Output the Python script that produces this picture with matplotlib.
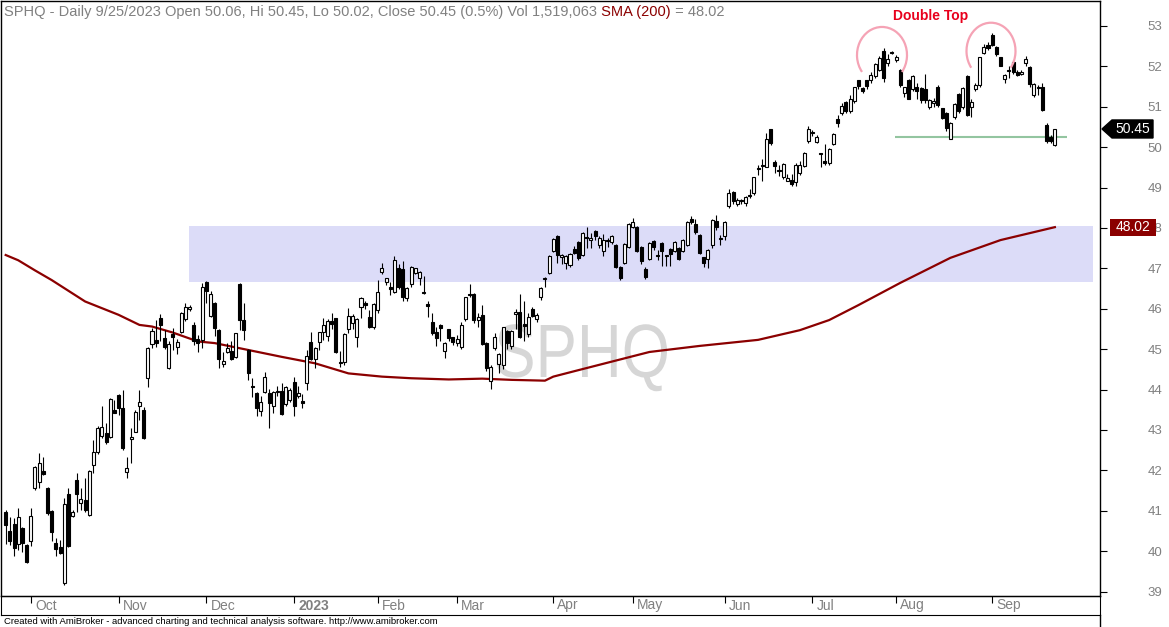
#!/usr/bin/env python3
"""SPHQ diario (sep 2022 - sep 2023) con SMA(200), zona de resistencia
y doble techo, al estilo de una captura de AmiBroker."""
import matplotlib
matplotlib.use("Agg")
import matplotlib.pyplot as plt
import matplotlib.transforms as mtransforms
from matplotlib.patches import Rectangle, Arc, Polygon, PathPatch
from matplotlib.textpath import TextPath
from matplotlib.font_manager import FontProperties
from matplotlib.lines import Line2D
import numpy as np
import pandas as pd

W, H = 1169, 627

# --- datos ---
HOLIDAYS = ["2022-11-24", "2022-12-26", "2023-01-02", "2023-01-16", "2023-02-20",
            "2023-04-07", "2023-05-29", "2023-06-19", "2023-07-04", "2023-09-04"]

OPEN = [
    40.96, 40.51, 40.67, 40.18, 40.57, 40.15, 40.25, 41.56, 41.70, 41.99,
    41.56, 41.00, 40.21, 40.11, 39.20, 41.42, 40.87, 41.76, 41.18, 41.27,
    40.90, 42.13, 42.45, 42.84, 42.92, 42.82, 43.49, 43.87, 43.55, 41.97,
    42.77, 42.96, 43.60, 43.49, 44.28, 45.12, 45.23, 45.78, 45.27, 44.53,
    45.37, 45.06, 45.43, 45.74, 45.99, 45.60, 45.24, 45.23, 46.67, 45.83,
    46.14, 45.48, 44.64, 44.94, 44.96, 44.80, 46.61, 45.72, 44.98, 44.09,
    43.91, 43.48, 43.95, 43.91, 43.60, 43.93, 43.97, 43.64, 43.74, 44.18,
    43.84, 43.72, 44.16, 45.17, 44.75, 45.17, 45.43, 45.33, 45.70, 45.76,
    44.69, 44.68, 45.49, 45.64, 45.29, 46.04, 46.15, 45.79, 45.56, 45.97,
    46.92, 46.67, 46.53, 46.41, 47.00, 46.98, 46.26, 46.61, 46.88, 46.75,
    46.41, 46.12, 45.68, 45.43, 45.60, 44.96, 45.49, 45.29, 45.16, 45.06,
    45.74, 46.36, 46.37, 45.72,
    45.85, 45.15, 44.22, 45.02, 44.63, 44.61, 45.46,
    45.08, 45.87, 45.91, 45.62, 45.37, 45.99, 45.74, 46.28, 46.73, 46.88,
    47.42, 47.80, 47.28, 47.14, 47.09, 47.48, 47.66, 47.33, 47.77, 47.69,
    47.93, 47.58, 47.44, 47.70, 47.66, 47.58, 47.03, 47.14, 47.54, 48.02,
    48.02, 47.54, 46.98, 47.23, 47.68, 47.32, 47.62, 47.32, 47.47, 47.44,
    47.50, 47.44, 47.58, 48.22, 48.10, 47.83, 47.27, 47.23, 47.58, 48.18,
    47.73, 47.79, 48.55, 48.90, 48.59, 48.68, 48.61, 48.80, 48.86, 49.48,
    49.55, 49.52, 50.44, 49.63, 49.43, 49.25, 49.17, 49.19, 49.13, 49.35,
    49.54, 50.16, 50.36, 50.12, 49.84, 49.63, 49.60, 50.08, 50.70, 50.84,
    51.11, 50.90, 51.15, 51.65, 51.46, 51.65, 51.65, 51.76, 51.91, 52.39,
    52.08, 52.36, 52.16, 51.91, 51.33, 51.66, 51.43, 51.50, 51.46, 51.43,
    50.99, 51.10, 51.48, 50.96, 50.85, 50.19, 50.74, 51.32, 50.99, 51.76,
    50.99, 51.43, 51.54, 52.32, 52.53, 52.78, 52.47, 52.22, 51.68, 51.89,
    52.12, 51.87, 51.81, 52.09, 51.98, 51.29, 51.48, 51.48, 50.55, 50.26,
    50.06,
]
HIGH = [
    41.02, 40.85, 40.81, 41.06, 40.60, 40.18, 41.06, 42.12, 42.42, 42.34,
    41.58, 41.02, 40.32, 40.28, 41.31, 41.56, 41.02, 41.93, 41.56, 41.80,
    42.01, 42.75, 43.10, 43.59, 43.16, 43.80, 43.74, 43.90, 43.99, 42.34,
    43.04, 43.49, 43.99, 43.58, 45.06, 45.52, 45.72, 45.87, 45.47, 45.20,
    45.52, 45.24, 45.92, 46.14, 46.10, 45.66, 45.35, 46.63, 46.69, 46.45,
    46.16, 45.50, 44.94, 45.14, 45.21, 45.41, 46.63, 46.15, 45.00, 44.28,
    43.93, 43.84, 44.43, 44.01, 43.97, 44.10, 44.15, 44.10, 44.05, 44.32,
    44.10, 43.88, 44.98, 45.43, 45.06, 45.43, 45.76, 45.74, 45.90, 45.78,
    44.96, 45.41, 46.01, 45.87, 45.76, 46.28, 46.20, 45.97, 46.14, 46.71,
    47.14, 46.77, 46.67, 47.31, 47.11, 47.17, 46.54, 47.06, 47.02, 46.94,
    46.80, 46.19, 45.90, 45.56, 45.62, 45.18, 45.51, 45.31, 45.35, 45.68,
    46.30, 46.61, 46.39, 45.90,
    46.09, 45.17, 44.60, 45.41, 44.90, 45.56, 45.48,
    45.48, 46.00, 46.36, 46.19, 45.90, 46.05, 45.90, 46.53, 46.79, 47.33,
    47.74, 47.82, 47.35, 47.33, 47.38, 47.55, 47.68, 47.89, 48.03, 47.87,
    47.95, 47.80, 47.85, 47.75, 47.82, 47.60, 47.05, 47.62, 48.12, 48.24,
    48.04, 47.56, 47.03, 47.64, 47.70, 47.46, 47.64, 47.34, 47.50, 47.67,
    47.52, 47.72, 48.16, 48.30, 48.22, 47.85, 47.29, 47.48, 48.22, 48.32,
    47.83, 48.16, 48.96, 48.92, 48.75, 48.72, 48.80, 48.96, 49.27, 49.56,
    49.70, 50.34, 50.46, 49.68, 49.56, 49.60, 49.34, 49.34, 49.60, 49.66,
    49.87, 50.53, 50.43, 50.29, 49.86, 50.08, 49.97, 50.35, 50.80, 51.10,
    51.14, 51.29, 51.50, 51.67, 51.48, 51.67, 51.85, 52.08, 52.25, 52.45,
    52.30, 52.38, 52.28, 51.93, 51.50, 51.68, 51.78, 51.60, 51.48, 51.81,
    51.20, 51.22, 51.55, 50.98, 50.87, 50.62, 51.09, 51.34, 51.50, 51.78,
    51.20, 51.60, 52.24, 52.55, 52.60, 52.82, 52.50, 52.24, 51.80, 52.00,
    52.15, 51.90, 51.90, 52.25, 52.00, 51.60, 51.55, 51.60, 50.60, 50.30,
    50.45,
]
LOW = [
    40.18, 40.15, 39.87, 40.03, 39.99, 39.70, 40.13, 41.52, 41.56, 41.89,
    40.90, 40.24, 39.87, 39.94, 39.16, 40.10, 40.84, 40.98, 41.02, 40.98,
    40.87, 41.94, 42.40, 42.80, 42.65, 42.80, 43.41, 43.37, 42.50, 41.80,
    42.18, 42.95, 43.25, 42.77, 44.07, 45.02, 45.06, 45.19, 45.00, 44.50,
    44.98, 44.88, 45.39, 45.70, 45.95, 45.10, 44.94, 45.02, 46.15, 45.80,
    45.33, 44.53, 44.57, 44.90, 44.73, 44.78, 45.48, 45.23, 44.24, 43.82,
    43.35, 43.35, 43.92, 43.04, 43.43, 43.85, 43.37, 43.60, 43.70, 43.35,
    43.80, 43.55, 43.99, 44.74, 44.53, 44.99, 45.23, 45.21, 45.50, 44.90,
    44.55, 44.60, 45.40, 45.50, 45.06, 45.76, 46.00, 45.52, 45.50, 45.90,
    46.85, 46.60, 46.34, 46.38, 46.50, 46.18, 46.20, 46.55, 46.85, 46.59,
    46.36, 45.79, 45.35, 45.08, 45.19, 44.77, 45.20, 45.10, 45.08, 45.00,
    45.70, 46.30, 45.65, 45.55,
    45.10, 44.45, 44.02, 44.98, 44.40, 44.50, 45.00,
    45.00, 45.50, 45.27, 45.20, 45.30, 45.80, 45.66, 46.22, 46.54, 46.87,
    47.40, 47.13, 47.11, 46.98, 47.03, 47.35, 47.20, 47.30, 47.50, 47.50,
    47.70, 47.50, 47.31, 47.54, 47.60, 47.00, 46.70, 47.10, 47.50, 48.00,
    47.40, 47.10, 46.73, 47.20, 47.45, 47.20, 47.06, 47.06, 47.05, 47.40,
    47.20, 47.40, 47.55, 48.10, 47.85, 47.35, 47.03, 47.00, 47.50, 47.95,
    47.58, 47.70, 48.50, 48.60, 48.55, 48.60, 48.55, 48.75, 48.82, 49.30,
    49.15, 49.50, 50.05, 49.37, 49.29, 49.20, 49.15, 49.04, 49.05, 49.30,
    49.50, 50.10, 50.28, 50.10, 49.52, 49.55, 49.55, 50.05, 50.51, 50.80,
    50.85, 50.85, 51.10, 51.45, 51.35, 51.45, 51.60, 51.70, 51.88, 51.62,
    52.00, 52.30, 52.10, 51.50, 51.25, 51.18, 51.40, 51.20, 51.10, 51.10,
    50.95, 51.00, 51.00, 50.70, 50.40, 50.19, 50.70, 50.85, 50.95, 50.78,
    50.75, 51.40, 51.50, 52.30, 52.40, 52.50, 52.25, 52.00, 51.60, 51.70,
    51.80, 51.75, 51.78, 52.00, 51.50, 51.25, 51.30, 50.90, 50.10, 50.10,
    50.02,
]
CLOSE = [
    40.65, 40.24, 40.07, 40.85, 40.21, 39.72, 40.88, 42.09, 42.18, 41.91,
    40.94, 40.48, 40.05, 39.96, 41.16, 40.13, 40.96, 41.41, 41.28, 41.02,
    41.98, 42.45, 43.04, 43.07, 42.69, 43.77, 43.43, 43.55, 42.55, 42.05,
    42.83, 43.44, 43.70, 42.81, 45.02, 45.45, 45.15, 45.60, 45.06, 45.12,
    45.29, 45.17, 45.89, 46.05, 46.04, 45.19, 45.16, 46.53, 46.45, 46.37,
    45.52, 44.75, 44.71, 45.02, 44.75, 45.39, 45.72, 45.48, 44.42, 44.06,
    43.54, 43.68, 44.30, 43.66, 43.95, 43.96, 43.39, 44.06, 43.99, 43.60,
    43.92, 43.66, 44.84, 44.76, 45.04, 45.42, 45.60, 45.70, 45.62, 44.94,
    44.65, 45.38, 45.81, 45.81, 45.74, 46.26, 46.09, 45.54, 46.12, 46.42,
    47.00, 46.75, 46.49, 47.21, 46.55, 46.28, 46.52, 47.04, 47.00, 46.92,
    46.38, 46.07, 45.41, 45.27, 45.52, 45.16, 45.27, 45.17, 45.24, 45.60,
    46.28, 46.33, 45.71, 45.80,
    45.13, 44.53, 44.57, 45.31, 44.88, 45.54, 45.16,
    45.46, 45.91, 45.29, 45.57, 45.79, 45.81, 45.85, 46.51, 46.77, 47.31,
    47.72, 47.33, 47.33, 47.31, 47.36, 47.39, 47.25, 47.87, 47.74, 47.75,
    47.79, 47.75, 47.69, 47.68, 47.80, 47.03, 46.75, 47.60, 48.10, 48.14,
    47.44, 47.17, 46.78, 47.62, 47.52, 47.30, 47.44, 47.30, 47.36, 47.65,
    47.23, 47.70, 48.14, 48.14, 47.89, 47.39, 47.13, 47.46, 48.20, 48.02,
    47.72, 48.14, 48.87, 48.67, 48.69, 48.66, 48.76, 48.78, 49.25, 49.46,
    49.54, 50.20, 50.10, 49.54, 49.42, 49.58, 49.23, 49.09, 49.56, 49.56,
    49.85, 50.44, 50.34, 50.25, 49.82, 49.62, 49.95, 50.33, 50.61, 51.02,
    50.90, 51.19, 51.48, 51.52, 51.40, 51.52, 51.79, 52.06, 52.20, 51.71,
    52.18, 52.34, 52.22, 51.54, 51.48, 51.20, 51.76, 51.40, 51.17, 51.17,
    51.17, 51.15, 51.04, 50.71, 50.47, 50.59, 51.07, 50.90, 51.46, 50.80,
    51.13, 51.54, 52.22, 52.47, 52.45, 52.53, 52.31, 52.01, 51.79, 51.88,
    51.87, 51.79, 51.87, 52.17, 51.56, 51.56, 51.46, 50.92, 50.16, 50.16,
    50.45,
]

SMA_IDX = [0, 3, 7, 11, 19, 27, 32, 35, 40, 46, 50, 58, 66, 74, 82, 90, 97,
           106, 114, 121, 129, 131, 137, 154, 166, 180, 190, 197, 204, 214,
           226, 238, 251]
SMA_VAL = [47.33, 47.20, 46.95, 46.71, 46.18, 45.85, 45.60, 45.56, 45.41,
           45.19, 45.15, 44.98, 44.81, 44.65, 44.40, 44.32, 44.28, 44.25,
           44.27, 44.24, 44.22, 44.32, 44.48, 44.93, 45.08, 45.23, 45.47,
           45.72, 46.09, 46.64, 47.26, 47.70, 48.02]

ZONE = (46.66, 48.05)
NECKLINE = 50.24
SMA_LAST = 48.02

# --- estilo ---
plt.rcParams["font.family"] = "Liberation Sans"
GREY = "#808080"
SMA_C = "#8b0000"
ZONE_C = "#dcdcf8"
NECK_C = "#93c5a0"
ARC_C = "#f5a3b5"

# escala horizontal: primera barra en x=5.7 px, 4.18 px por barra
PX0, PXB = 5.7, 4.18


def bx(px):
    return (px - PX0) / PXB


fig = plt.figure(figsize=(W / 100, H / 100), dpi=100)
ax = fig.add_axes([0.5 / W, 1 - 596 / H, 1099.5 / W, 595.5 / H])
ax.set_xlim(bx(0.5), bx(1100))
ax.set_ylim(38.89, 53.63)

o, h, l, c = (np.array(a) for a in (OPEN, HIGH, LOW, CLOSE))
x = np.arange(len(o))
dates = pd.bdate_range("2022-09-23", "2023-09-25", freq="C", holidays=HOLIDAYS)

# zona de resistencia
ax.add_patch(Rectangle((bx(189), ZONE[0]), bx(1093) - bx(189), ZONE[1] - ZONE[0],
                       facecolor=ZONE_C, lw=0, zorder=0.5))

# marca de agua estrecha: texto como trazado, escalado a 170 x 52 px
fp = FontProperties(family="Liberation Sans")
wm = TextPath((0, 0), "SPHQ", size=100, prop=fp)
cap = TextPath((0, 0), "H", size=100, prop=fp).get_extents().height
bb = wm.get_extents()
sx, sy = 170 / bb.width, 52 / cap
wm_tr = (mtransforms.Affine2D().translate(-bb.x0, 0).scale(sx / W, sy / H)
         .translate(497 / W, 1 - 377 / H) + fig.transFigure)
fig.add_artist(PathPatch(wm, transform=wm_tr, facecolor="#d6d6d6", lw=0, zorder=0.7))
ax.set_facecolor("none")
ax.set_zorder(1)

ax.plot(SMA_IDX, SMA_VAL, color=SMA_C, lw=1.6, zorder=2)

# velas
ax.vlines(x, l, h, color="black", lw=0.8, zorder=3)
up = c >= o
bot = np.minimum(o, c)
hgt = np.maximum(np.abs(c - o), 0.025)
ax.bar(x[up], hgt[up], bottom=bot[up], width=0.72, facecolor="white",
       edgecolor="black", lw=0.8, zorder=4)
ax.bar(x[~up], hgt[~up], bottom=bot[~up], width=0.72, facecolor="black",
       edgecolor="black", lw=0.8, zorder=4)

# doble techo
ax.hlines(NECKLINE, bx(895), bx(1067), color=NECK_C, lw=1.5, zorder=2)
ax.add_patch(Arc((bx(882), 52.28), 2 * 25 / PXB, 1.39, theta1=-5, theta2=185,
                 color=ARC_C, lw=1.6, zorder=5))
ax.add_patch(Arc((bx(991), 52.38), 2 * 24.5 / PXB, 1.40, theta1=-5, theta2=185,
                 color=ARC_C, lw=1.6, zorder=5))
ax.text(bx(931), 53.14, "Double Top", ha="center", va="baseline", color="#e8001c",
        fontsize=10, fontweight="bold", zorder=6)

# eje de precios a la derecha
ax.yaxis.tick_right()
ax.set_yticks(np.arange(39, 54))
ax.tick_params(axis="y", direction="out", length=5, width=0.8, pad=29,
               labelsize=9.5, labelcolor=GREY)
ax.set_xticks([])
for s in ax.spines.values():
    s.set_linewidth(1.0)

# tira de fechas
ax2 = fig.add_axes([0.5 / W, 1 - 615 / H, 1099.5 / W, 19 / H])
ax2.set_xlim(ax.get_xlim())
ax2.set_ylim(0, 1)
ax2.set_yticks([])
starts = [i for i in range(1, len(dates)) if dates[i].month != dates[i - 1].month]
ax2.set_xticks(starts)
ax2.tick_params(axis="x", direction="in", length=5, width=0.8, top=True,
                bottom=False, labelbottom=False)
for i in starts:
    d = dates[i]
    lbl = str(d.year) if d.month == 1 else d.strftime("%b")
    ax2.annotate(lbl, xy=(i, 0.5), xycoords=("data", "axes fraction"),
                 xytext=(3, 0), textcoords="offset points", ha="left", va="center",
                 fontsize=10, color=GREY, fontweight="bold" if d.month == 1 else "normal")
fig.add_artist(Line2D([1100 / W, 1100 / W], [0, 12 / H], color="black", lw=1.0))

# etiquetas de valor a la derecha
fig.canvas.draw()
r = fig.canvas.get_renderer()


def ypx(v):
    return ax.transData.transform((0, v))[1]


yc = ypx(c[-1])
pts = [(1102, yc), (1112, yc + 9), (1153, yc + 9), (1153, yc - 9), (1112, yc - 9)]
fig.add_artist(Polygon([(px / W, py / H) for px, py in pts], closed=True,
                       transform=fig.transFigure, facecolor="black", edgecolor="black",
                       zorder=5))
fig.text(1132.5 / W, yc / H, f"{c[-1]:.2f}", color="white", fontsize=10,
         ha="center", va="center", zorder=6)
ys = ypx(SMA_LAST)
fig.add_artist(Rectangle((1110 / W, (ys - 8.5) / H), 46 / W, 17 / H,
                         transform=fig.transFigure, facecolor=SMA_C, lw=0, zorder=5))
fig.text(1133 / W, ys / H, f"{SMA_LAST:.2f}", color="white", fontsize=10,
         ha="center", va="center", zorder=6)

# titulo en varios colores
pieces = [
    ("SPHQ - Daily 9/25/2023 Open 50.06, Hi 50.45, Lo 50.02, Close 50.45 (0.5%) "
     "Vol 1,519,063", GREY),
    (" SMA (200)", SMA_C),
    (" = 48.02", GREY),
]
x0 = 4
for s, col in pieces:
    t = fig.text(x0 / W, 1 - 16 / H, s, color=col, fontsize=10.5, va="baseline")
    x0 = t.get_window_extent(r).x1

fig.text(4 / W, 1 - 622 / H,
         "Created with AmiBroker - advanced charting and technical analysis software. "
         "http://www.amibroker.com", fontsize=6.8, va="center", color="black")

fig.savefig("out.png", dpi=100, facecolor="white")
